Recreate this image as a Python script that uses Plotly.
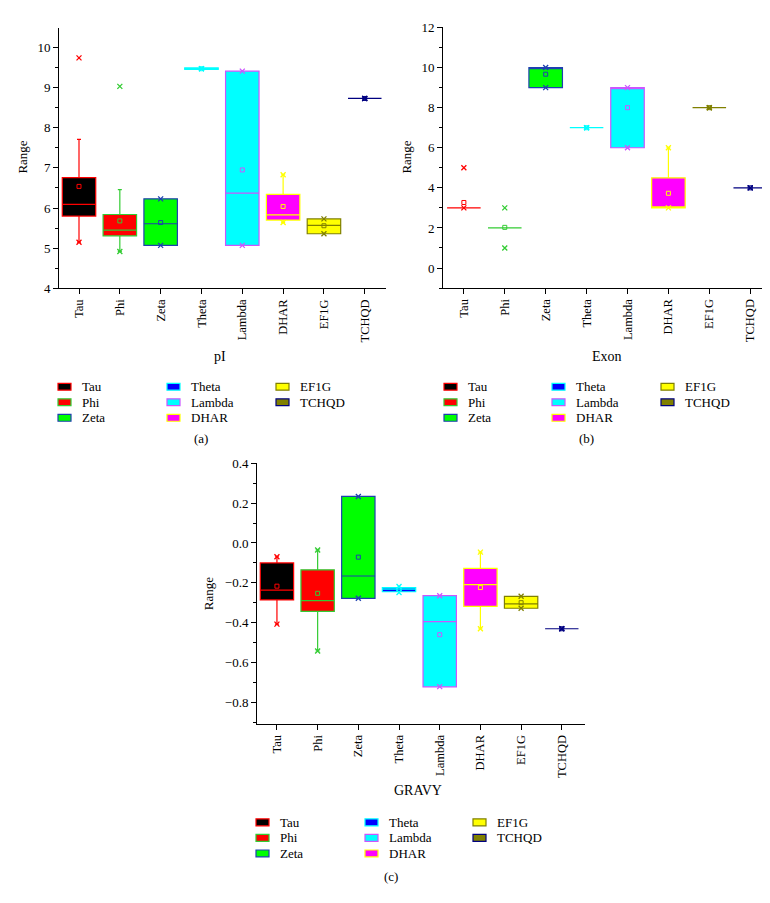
import plotly.graph_objects as go

categories = ["Tau", "Phi", "Zeta", "Theta", "Lambda", "DHAR", "EF1G", "TCHQD"]
fill_colors = ["#000000", "#FF0000", "#00FF00", "#0000FF", "#00FFFF", "#FF00FF", "#FFFF00", "#808000"]
line_colors = ["#FF0000", "#33CC33", "#1E40B0", "#00FFFF", "#CC55FF", "#FFFF00", "#808000", "#000080"]

# pI
pi_q1 = [5.80, 5.31, 5.07, 9.455, 5.07, 5.70, 5.36, 8.73]
pi_median = [6.09, 5.45, 5.61, 9.47, 6.37, 5.83, 5.57, 8.73]
pi_q3 = [6.76, 5.84, 6.23, 9.49, 9.41, 6.34, 5.73, 8.73]
pi_lower = [5.15, 4.92, 5.07, 9.455, 5.07, 5.64, 5.36, 8.73]
pi_upper = [7.71, 6.46, 6.23, 9.49, 9.41, 6.83, 5.73, 8.73]
pi_mean = [6.54, 5.68, 5.64, 9.47, 6.95, 6.04, 5.56, 8.73]
pi_min = [5.15, 4.92, 5.07, 9.47, 5.07, 5.64, 5.36, 8.73]
pi_max = [9.74, 9.03, 6.23, 9.47, 9.41, 6.83, 5.73, 8.73]

# Exon
ex_q1 = [3, 2, 9, 7, 6, 3, 8, 4]
ex_median = [3, 2, 10, 7, 9, 3, 8, 4]
ex_q3 = [3, 2, 10, 7, 9, 4.5, 8, 4]
ex_lower = [3, 2, 9, 7, 6, 3, 8, 4]
ex_upper = [3, 2, 10, 7, 9, 6, 8, 4]
ex_mean = [3.27, 2.03, 9.67, 7, 8, 3.73, 8, 4]
ex_min = [3, 1, 9, 7, 6, 3, 8, 4]
ex_max = [5, 3, 10, 7, 9, 6, 8, 4]

# GRAVY
gr_q1 = [-0.286, -0.344, -0.278, -0.245, -0.723, -0.319, -0.328, -0.431]
gr_median = [-0.237, -0.290, -0.166, -0.232, -0.395, -0.209, -0.306, -0.431]
gr_q3 = [-0.100, -0.135, 0.234, -0.224, -0.265, -0.128, -0.268, -0.431]
gr_lower = [-0.408, -0.543, -0.278, -0.245, -0.723, -0.431, -0.328, -0.431]
gr_upper = [-0.069, -0.035, 0.234, -0.224, -0.265, -0.046, -0.268, -0.431]
gr_mean = [-0.217, -0.253, -0.071, -0.232, -0.461, -0.224, -0.300, -0.431]
gr_min = [-0.408, -0.543, -0.278, -0.249, -0.722, -0.431, -0.328, -0.431]
gr_max = [-0.069, -0.035, 0.234, -0.219, -0.265, -0.046, -0.268, -0.431]

panel_titles = ["pI", "Exon", "GRAVY"]
panel_labels = ["(a)", "(b)", "(c)"]

W, H = 770, 903
FONT = "'Liberation Serif', 'Times New Roman', 'DejaVu Serif', serif"

def px_x(x):
    return x / W

def px_y(y):
    return 1 - y / H

fig = go.Figure()

panels = [
    dict(ax="x", ay="y", q1=pi_q1, med=pi_median, q3=pi_q3, lo=pi_lower, hi=pi_upper,
         mean=pi_mean, mn=pi_min, mx=pi_max),
    dict(ax="x2", ay="y2", q1=ex_q1, med=ex_median, q3=ex_q3, lo=ex_lower, hi=ex_upper,
         mean=ex_mean, mn=ex_min, mx=ex_max),
    dict(ax="x3", ay="y3", q1=gr_q1, med=gr_median, q3=gr_q3, lo=gr_lower, hi=gr_upper,
         mean=gr_mean, mn=gr_min, mx=gr_max),
]

for p in panels:
    for i, c in enumerate(categories):
        fig.add_trace(go.Box(
            x=[c], q1=[p["q1"][i]], median=[p["med"][i]], q3=[p["q3"][i]],
            lowerfence=[p["lo"][i]], upperfence=[p["hi"][i]],
            width=0.82, whiskerwidth=0.12,
            fillcolor=fill_colors[i], line=dict(color=line_colors[i], width=1.2),
            boxpoints=False, showlegend=False,
            xaxis=p["ax"], yaxis=p["ay"],
        ))
    fig.add_trace(go.Scatter(
        x=categories + categories, y=p["mn"] + p["mx"], mode="markers",
        marker=dict(symbol="x-thin-open", size=5, color=line_colors + line_colors,
                    line=dict(width=1.3, color=line_colors + line_colors)),
        showlegend=False, xaxis=p["ax"], yaxis=p["ay"],
    ))
    fig.add_trace(go.Scatter(
        x=categories, y=p["mean"], mode="markers",
        marker=dict(symbol="square-open", size=4, color=line_colors, line=dict(width=1)),
        showlegend=False, xaxis=p["ax"], yaxis=p["ay"],
    ))

def xaxis_cfg(x0, x1, rng):
    return dict(
        domain=[px_x(x0), px_x(x1)], range=rng, type="category",
        categoryorder="array", categoryarray=categories,
        showline=True, linecolor="black", linewidth=1, mirror=False,
        ticks="outside", ticklen=5, tickcolor="black", tickangle=-90,
        tickfont=dict(family=FONT, size=12.5, color="black"),
        showgrid=False, zeroline=False, fixedrange=True,
    )

def yaxis_cfg(y0, y1, rng, dtick, minor_dtick, fmt, anchor):
    return dict(
        domain=[px_y(y1), px_y(y0)], range=rng, anchor=anchor,
        showline=True, linecolor="black", linewidth=1,
        ticks="outside", ticklen=5, tickcolor="black", dtick=dtick, tick0=0,
        tickformat=fmt,
        minor=dict(dtick=minor_dtick, ticks="outside", ticklen=3, tickcolor="black", showgrid=False),
        tickfont=dict(family=FONT, size=13, color="black"),
        showgrid=False, zeroline=False, fixedrange=True,
    )

fig.update_layout(
    width=W, height=H,
    margin=dict(l=0, r=0, t=0, b=0),
    paper_bgcolor="white", plot_bgcolor="white",
    font=dict(family=FONT, color="black"),
    xaxis=xaxis_cfg(51, 378, [-0.49, 7.52]) | dict(anchor="y"),
    yaxis=yaxis_cfg(13, 278, [4, 10.49], 1, 0.5, "d", "x"),
    xaxis2=xaxis_cfg(435, 768, [-0.51, 7.63]) | dict(anchor="y2"),
    yaxis2=yaxis_cfg(12.7, 277.7, [-1, 12], 2, 1, "d", "x2"),
    xaxis3=xaxis_cfg(249, 577, [-0.49, 7.57]) | dict(anchor="y3"),
    yaxis3=yaxis_cfg(456, 721, [-0.91, 0.4], 0.2, 0.1, ".1f", "x3"),
)

annotations = []
shapes = []

# axis titles
title_pos = [(212, 347), (599, 347), (410, 789)]
range_pos = [(15, 145), (399, 145), (200, 588)]
label_pos = [(193, 431), (578, 431), (383, 876)]
for k in range(3):
    tx, ty = title_pos[k]
    annotations.append(dict(x=px_x(tx), y=px_y(ty), xref="paper", yref="paper", text=panel_titles[k],
                            showarrow=False, font=dict(family=FONT, size=14, color="black"),
                            xanchor="center", yanchor="middle"))
    rx, ry = range_pos[k]
    annotations.append(dict(x=px_x(rx), y=px_y(ry), xref="paper", yref="paper", text="Range",
                            textangle=-90, showarrow=False, font=dict(family=FONT, size=13, color="black"),
                            xanchor="center", yanchor="middle"))
    lx, ly = label_pos[k]
    annotations.append(dict(x=px_x(lx), y=px_y(ly), xref="paper", yref="paper", text=panel_labels[k],
                            showarrow=False, font=dict(family=FONT, size=13, color="black"),
                            xanchor="center", yanchor="middle"))

# legends: (column swatch left x values, first row y)
legend_specs = [
    ([50, 159, 268], 378),
    ([436, 544, 653], 378),
    ([248, 357, 465], 821),
]
row_gap = 15.8
for cols, y0 in legend_specs:
    for i, c in enumerate(categories):
        col = i // 3
        row = i % 3
        sx = cols[col]
        sy = y0 + row * row_gap
        shapes.append(dict(type="rect", xref="paper", yref="paper",
                           x0=px_x(sx), x1=px_x(sx + 13), y0=px_y(sy + 3.5), y1=px_y(sy - 3.5),
                           fillcolor=fill_colors[i], line=dict(color=line_colors[i], width=1.2)))
        annotations.append(dict(x=px_x(sx + 22), y=px_y(sy), xref="paper", yref="paper", text=c,
                                showarrow=False, font=dict(family=FONT, size=13, color="black"),
                                xanchor="left", yanchor="middle"))

fig.update_layout(annotations=annotations, shapes=shapes)

fig.write_html("out.html")
